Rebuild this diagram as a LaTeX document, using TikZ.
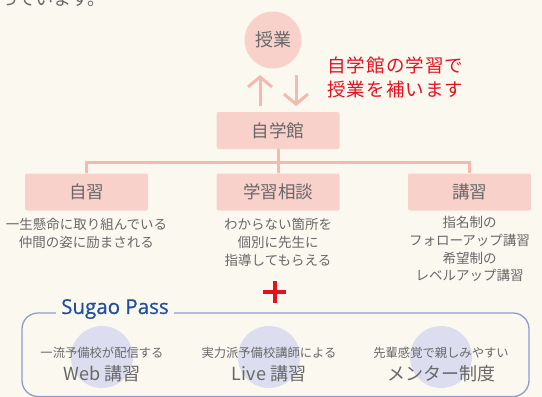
\documentclass[tikz,border=0pt]{standalone}
\usepackage{fontspec}
\newfontfamily\jpfont{Noto Sans CJK JP}
\newfontfamily\passfont[FakeBold=0.6]{Open Sans}
\usetikzlibrary{arrows.meta}

\definecolor{bgcream}{HTML}{FBF8F0}
\definecolor{boxpink}{HTML}{F8D1CB}
\definecolor{linepink}{HTML}{F5B9AF}
\definecolor{txtgray}{HTML}{686868}
\definecolor{notered}{HTML}{E6101E}
\definecolor{passblue}{HTML}{1F4F9E}
\definecolor{passline}{HTML}{8E9CD0}
\definecolor{passcircle}{HTML}{DCDEF0}

\begin{document}
\begin{tikzpicture}[x=1pt, y=-1pt,
    every node/.style={text=txtgray, font=\jpfont},
    pinkbox/.style={fill=boxpink, rounded corners=2pt, minimum width=123pt, minimum height=37pt,
        font=\jpfont\fontsize{17.5}{17.5}\selectfont},
    desc/.style={align=center, anchor=north, inner sep=0pt,
        font=\jpfont\fontsize{13.5}{17.8}\selectfont},
    pinkline/.style={linepink, line width=3pt},
    pinkarrow/.style={linepink, line width=3pt, -{Straight Barb[length=10pt, width=24pt]}}]

    % background and frame
    \useasboundingbox (0,0) rectangle (542,397);
    \fill[bgcream] (0,0) rectangle (542,397);
    \clip (0,0) rectangle (542,397);

    % text left over from the page above
    \node[anchor=base west, inner sep=0pt, font=\jpfont\fontsize{18}{18}\selectfont] (prevline) at (0,5) {っています。};

    % lesson and self study hall
    \node[circle, fill=boxpink, minimum size=57pt, font=\jpfont\fontsize{18}{18}\selectfont] (jugyo) at (273,40) {授業};
    \node[pinkbox] (jigakukan) at (278,130.5) {自学館};

    \coordinate (upfrom) at (260,106);
    \coordinate (upto) at (260,75);
    \coordinate (downfrom) at (296,75);
    \coordinate (downto) at (296,106);
    \draw[pinkarrow] (upfrom) -- (upto);
    \draw[pinkarrow] (downfrom) -- (downto);

    \node[align=left, anchor=north west, inner sep=0pt, text=notered,
        font=\jpfont\fontsize{18.5}{24}\selectfont\addfontfeatures{LetterSpace=6}] (note) at (327,57) {自学館の学習で\\授業を補います};

    % three kinds of study
    \node[pinkbox] (jishu) at (86.5,192) {自習};
    \node[pinkbox] (soudan) at (278,192) {学習相談};
    \node[pinkbox] (koushu) at (469.5,192) {講習};

    \coordinate (branch) at (278,162);
    \draw[pinkline] (jigakukan.south) -- (soudan.north);
    \draw[pinkline] (jishu.north) |- (branch) -| (koushu.north);

    \node[desc] (jishutxt) at (86.5,218) {一生懸命に取り組んでいる\\仲間の姿に励まされる};
    \node[desc] (soudantxt) at (278,218) {わからない箇所を\\個別に先生に\\指導してもらえる};
    \node[desc] (koushutxt) at (469.5,216) {指名制の\\フォローアップ講習\\希望制の\\レベルアップ講習};

    % plus sign
    \draw[notered, line width=4pt] (263,292) -- (286,292) (274.5,281) -- (274.5,303);

    % Sugao Pass
    \draw[passline, line width=1.3pt, rounded corners=16pt] (22,313) rectangle (529,396.5);
    \node[fill=bgcream, inner xsep=5pt, text=passblue,
        font=\passfont\fontsize{20.5}{20.5}\selectfont] (passtitle) at (115,309) {Sugao Pass};

    \foreach \name/\x/\subtxt/\maintxt in {web/102/一流予備校が配信する/Web 講習,
                                     live/269/実力派予備校講師による/Live 講習,
                                     mentor/441/先輩感覚で親しみやすい/メンター制度} {
        \node[circle, fill=passcircle, minimum size=62pt] (\name) at (\x,357) {};
        \node[inner sep=0pt, font=\jpfont\fontsize{12.3}{12.3}\selectfont] (\name sub) at (\x,353) {\subtxt};
        \node[inner sep=0pt, font=\jpfont\fontsize{18}{18}\selectfont] (\name main) at (\x,373.5) {\maintxt};
    }
\end{tikzpicture}
\end{document}
